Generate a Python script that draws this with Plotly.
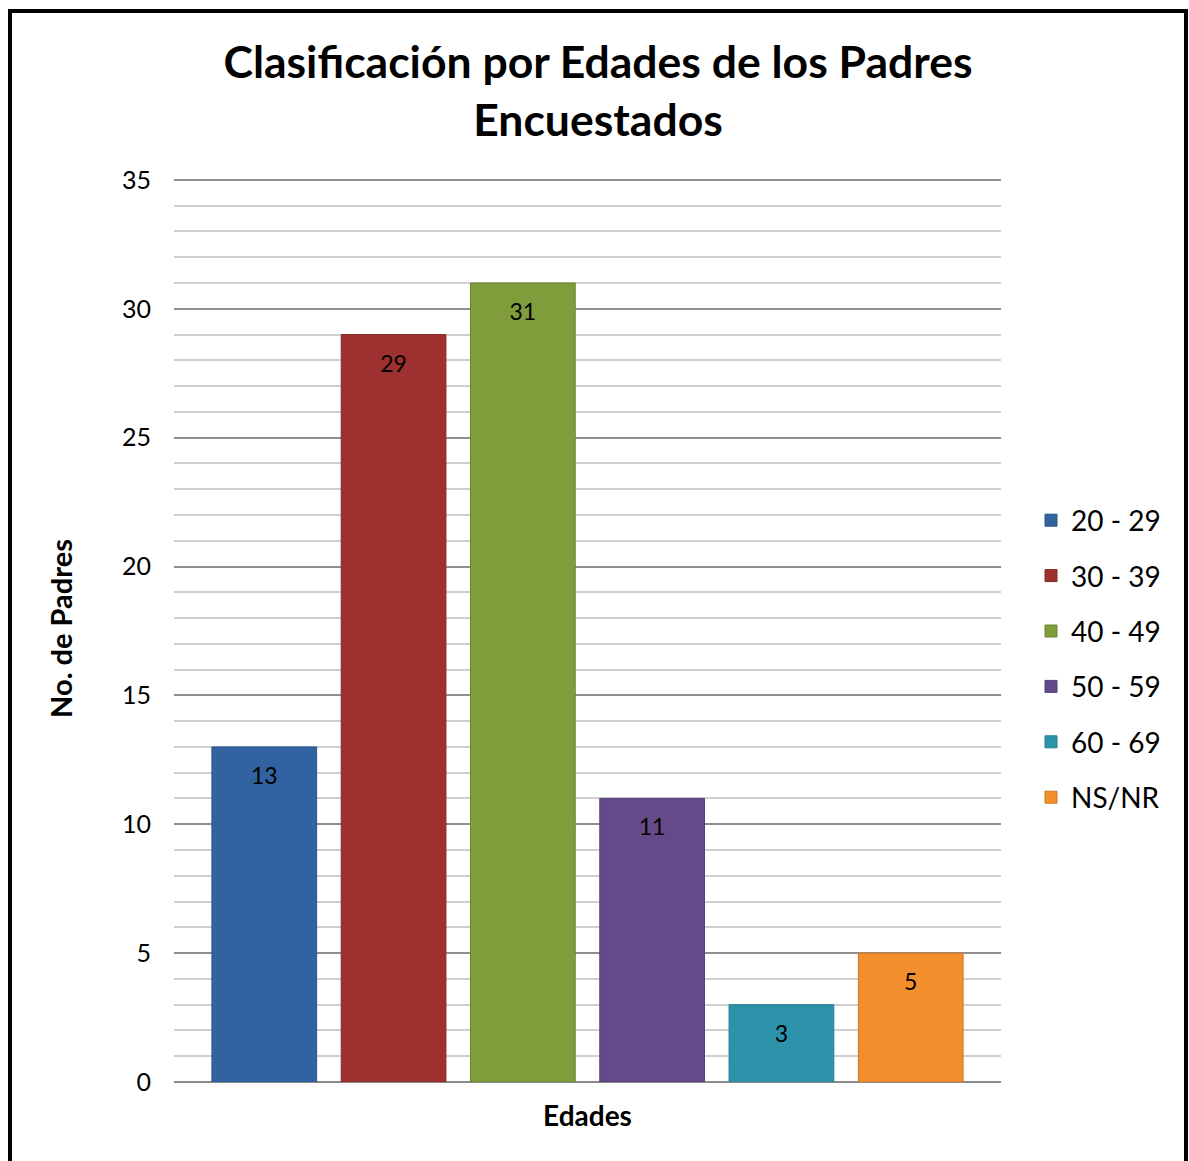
import plotly.graph_objects as go

categories = ["20 - 29", "30 - 39", "40 - 49", "50 - 59", "60 - 69", "NS/NR"]
values = [13, 29, 31, 11, 3, 5]
colors = ["#3163A0", "#9E3130", "#7F9D3A", "#654A8A", "#2C93AA", "#F28E2B"]
line_colors = ["#2A5587", "#862A29", "#6C8631", "#563F76", "#257D91", "#CE7925"]
x_group = "Edades"
title_text = "Clasificación por Edades de los Padres<br>Encuestados"
y_title = "No. de Padres"

FONT = "Lato, Open Sans, sans-serif"
BARGAP = 0.062
Y_MAX = 35.19

fig = go.Figure()
for i, (cat, val) in enumerate(zip(categories, values)):
    fig.add_trace(go.Bar(
        x=[x_group], y=[val], name=cat,
        marker=dict(color=colors[i], line=dict(color=line_colors[i], width=1)),
        legendgroup=cat, offsetgroup=cat,
    ))
# data labels, placed just under the top of each bar
for i, (cat, val) in enumerate(zip(categories, values)):
    fig.add_trace(go.Scatter(
        x=[x_group], y=[val], mode="markers+text", text=[str(val)],
        textposition="bottom center",
        textfont=dict(family=FONT, size=23, color="black"),
        marker=dict(size=30, opacity=0),
        showlegend=False, hoverinfo="skip", offsetgroup=cat,
        cliponaxis=False,
    ))

W, H = 1189, 1161
L, R, T, B = 174, 1001, 175, 1082
pw, ph = R - L, B - T

def px_x(p):
    return (p - L) / pw

def px_y(p):
    return (B - p) / ph

fig.update_layout(
    width=W, height=H,
    margin=dict(l=L, r=W - R, t=T, b=H - B, autoexpand=False),
    paper_bgcolor="white", plot_bgcolor="white",
    font=dict(family=FONT, color="black"),
    barmode="group", bargap=BARGAP, bargroupgap=0.19,
    scattermode="group", scattergap=BARGAP,
    title=dict(text=title_text, x=598 / W, xanchor="center", y=1 - 78 / H, yanchor="middle",
               yref="container", font=dict(family=FONT, size=44.5, color="black", weight="bold")),
    showlegend=True,
    legend=dict(x=px_x(1031), xanchor="left", y=px_y(659), yanchor="middle",
                font=dict(family=FONT, size=28, color="black"), tracegroupgap=16,
                itemwidth=30, bgcolor="rgba(0,0,0,0)"),
)
fig.update_xaxes(showticklabels=False, showgrid=False, zeroline=False,
                 showline=False, range=[-0.5, 0.5],
                 title=dict(text=x_group, standoff=24,
                            font=dict(family=FONT, size=28, color="black", weight="bold")))
fig.update_yaxes(range=[0, Y_MAX], dtick=5, tick0=0, showgrid=True, gridcolor="#8f8f8f", gridwidth=1.5,
                 minor=dict(dtick=1, showgrid=True, gridcolor="#cfcfcf", gridwidth=1.5),
                 zeroline=True, zerolinecolor="#8a8a8a", zerolinewidth=2,
                 showline=False, ticks="", ticklabelstandoff=22,
                 tickfont=dict(family=FONT, size=25, color="black"),
                 title=dict(text=y_title, standoff=40,
                            font=dict(family=FONT, size=29, color="black", weight="bold")))

# outer border of chart area
fig.add_shape(type="rect", xref="paper", yref="paper",
              x0=px_x(10), x1=px_x(1186), y0=px_y(1175), y1=px_y(11),
              line=dict(color="black", width=4), fillcolor="rgba(0,0,0,0)", layer="above")

fig.write_html("out.html", config={"displayModeBar": False},
               post_script="document.body.style.margin='0';")
